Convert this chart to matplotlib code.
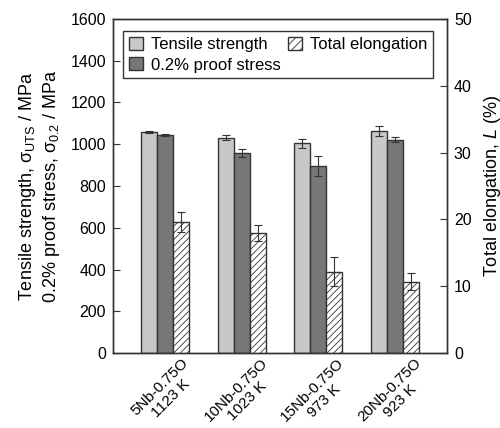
import numpy as np
import matplotlib
matplotlib.use("Agg")
from matplotlib import pyplot as plt
from matplotlib.patches import Patch

plt.rcParams['font.family'] = ['Liberation Sans', 'DejaVu Sans']
plt.rcParams['mathtext.fontset'] = 'custom'
plt.rcParams['mathtext.rm'] = 'Liberation Sans'
plt.rcParams['mathtext.it'] = 'Liberation Sans:italic'
plt.rcParams['hatch.color'] = '#555555'
plt.rcParams['hatch.linewidth'] = 0.6

alloys = ['5Nb-0.75O\n1123 K', '10Nb-0.75O\n1023 K', '15Nb-0.75O\n973 K', '20Nb-0.75O\n923 K']
uts = [1058, 1031, 1004, 1063]
uts_err = [5, 11, 21, 22]
proof = [1045, 958, 897, 1022]
proof_err = [5, 17, 48, 12]
elong = [19.6, 18.0, 12.2, 10.7]
elong_err = [1.5, 1.2, 2.2, 1.3]

x = np.arange(len(alloys))
w = 0.21
edge = '#333333'
ekw = dict(ecolor='#333333', elinewidth=0.8, capsize=3, capthick=0.8)

fig = plt.figure(figsize=(5, 4.28), dpi=100)
ax = fig.add_axes([0.226, 0.175, 0.668, 0.781])
ax2 = ax.twinx()

ax.bar(x - w, uts, w, yerr=uts_err, color='#c8c8c8', edgecolor=edge, linewidth=1, error_kw=ekw)
ax.bar(x, proof, w, yerr=proof_err, color='#777777', edgecolor=edge, linewidth=1, error_kw=ekw)
ax2.bar(x + w, elong, w, yerr=elong_err, color='white', edgecolor=edge, linewidth=1,
        hatch='/////', error_kw=ekw)

ax.set_xlim(-0.68, 3.68)
ax.set_ylim(0, 1600)
ax.set_yticks(np.arange(0, 1601, 200))
ax2.set_ylim(0, 50)
ax2.set_yticks(np.arange(0, 51, 10))

ax.set_xticks(x)
ax.set_xticklabels(alloys, rotation=45, ha='center', va='top',
                   multialignment='center', fontsize=11)
ax.tick_params(axis='x', length=0, pad=2)
ax.tick_params(axis='y', direction='in', length=5, labelsize=11.5, color='#333333', pad=5)
ax2.tick_params(axis='y', direction='in', length=5, labelsize=11.5, color='#333333', pad=5)

for a in (ax, ax2):
    for s in a.spines.values():
        s.set_color('#333333')
        s.set_linewidth(1)

ax.set_ylabel('Tensile strength, σ$_{\\mathrm{UTS}}$ / MPa\n0.2% proof stress, σ$_{\\mathrm{0.2}}$ / MPa',
              fontsize=13, labelpad=6)
ax2.set_ylabel('Total elongation, $L$ (%)', fontsize=13, labelpad=7)

handles = [Patch(facecolor='#c8c8c8', edgecolor=edge, label='Tensile strength'),
           Patch(facecolor='#777777', edgecolor=edge, label='0.2% proof stress'),
           Patch(facecolor='white', edgecolor=edge, hatch='////', label='Total elongation')]
leg = ax.legend(handles=handles, ncol=2, loc='upper left', bbox_to_anchor=(0.03, 0.964),
                fancybox=False, edgecolor='#333333', fontsize=12, handlelength=0.85,
                handleheight=0.85, columnspacing=0.4, handletextpad=0.5, borderpad=0.35,
                labelspacing=0.3, borderaxespad=0, framealpha=1)
leg.get_frame().set_linewidth(1)

fig.savefig('out.png', dpi=100)
